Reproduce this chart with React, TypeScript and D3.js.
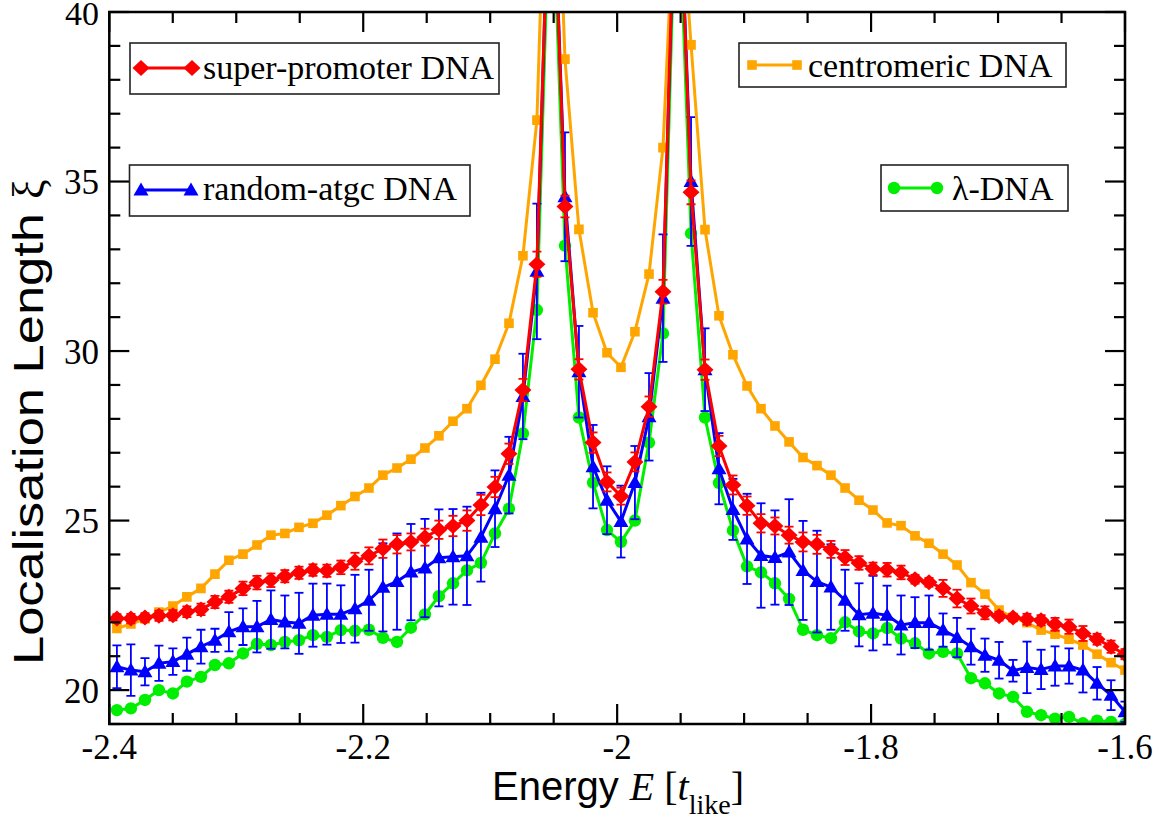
import React from "react";
import * as d3 from "d3";

// Energy grid (in units of t_like)
const energies = [
  -2.394, -2.383, -2.3719, -2.3609, -2.3499, -2.3389, -2.3278, -2.3168, -2.3058, -2.2947,
  -2.2837, -2.2727, -2.2617, -2.2506, -2.2396, -2.2286, -2.2176, -2.2065, -2.1955, -2.1845,
  -2.1734, -2.1624, -2.1514, -2.1404, -2.1293, -2.1183, -2.1073, -2.0962, -2.0852, -2.0742,
  -2.0632, -2.0521, -2.0411, -2.0301, -2.019, -2.008, -1.997, -1.986, -1.9749, -1.9639,
  -1.9529, -1.9418, -1.9308, -1.9198, -1.9088, -1.8977, -1.8867, -1.8757, -1.8646, -1.8536,
  -1.8426, -1.8316, -1.8205, -1.8095, -1.7985, -1.7874, -1.7764, -1.7654, -1.7544, -1.7433,
  -1.7323, -1.7213, -1.7103, -1.6992, -1.6882, -1.6772, -1.6661, -1.6551, -1.6441, -1.6331,
  -1.622, -1.611, -1.6,
];

const superPromoter = [
  22.11, 22.11, 22.14, 22.19, 22.21, 22.31, 22.38, 22.6, 22.75, 23.0,
  23.17, 23.24, 23.36, 23.46, 23.54, 23.52, 23.62, 23.8, 23.96, 24.17,
  24.3, 24.37, 24.51, 24.73, 24.84, 25.0, 25.46, 25.99, 26.97, 28.85,
  32.56, 46, 34.26, 29.46, 27.3, 26.14, 25.72, 26.73, 28.36, 31.75,
  46, 34.68, 29.45, 27.2, 26.05, 25.44, 24.92, 24.84, 24.57, 24.37,
  24.3, 24.15, 23.91, 23.75, 23.58, 23.55, 23.47, 23.27, 23.18, 23.0,
  22.7, 22.48, 22.28, 22.18, 22.14, 22.09, 22.06, 21.94, 21.87, 21.67,
  21.5, 21.28, 21.06,
];
const superPromoterErr = [
  0.13, 0.14, 0.13, 0.15, 0.15, 0.16, 0.17, 0.18, 0.18, 0.2,
  0.2, 0.2, 0.18, 0.18, 0.17, 0.18, 0.2, 0.25, 0.25, 0.27,
  0.27, 0.25, 0.25, 0.27, 0.3, 0.3, 0.3, 0.3, 0.3, 0.33,
  0.37, 0.4, 0.32, 0.3, 0.3, 0.28, 0.25, 0.28, 0.3, 0.35,
  0.4, 0.35, 0.3, 0.3, 0.28, 0.27, 0.27, 0.25, 0.25, 0.28,
  0.28, 0.25, 0.22, 0.2, 0.18, 0.2, 0.2, 0.13, 0.13, 0.25,
  0.26, 0.22, 0.19, 0.13, 0.11, 0.16, 0.15, 0.19, 0.21, 0.22,
  0.16, 0.18, 0.15,
];

const randomAtgc = [
  20.69, 20.59, 20.54, 20.79, 20.84, 21.06, 21.28, 21.47, 21.72, 21.87,
  21.87, 22.08, 22.01, 21.97, 22.21, 22.24, 22.24, 22.4, 22.65, 23.03,
  23.2, 23.48, 23.6, 23.9, 23.93, 23.96, 24.51, 25.35, 26.34, 28.66,
  32.35, 46, 34.55, 29.39, 26.59, 25.6, 24.97, 26.12, 28.06, 31.56,
  46, 35.0, 29.45, 26.53, 25.33, 24.46, 23.97, 23.91, 24.07, 23.53,
  23.2, 23.04, 22.65, 22.22, 22.27, 22.21, 21.92, 21.99, 21.99, 21.77,
  21.55, 21.28, 21.03, 20.88, 20.57, 20.67, 20.61, 20.71, 20.71, 20.59,
  20.2, 19.85, 19.36,
];
const randomAtgcErr = [
  0.63, 0.76, 0.4, 0.52, 0.39, 0.49, 0.5, 0.34, 0.58, 0.54,
  0.76, 0.86, 0.78, 0.9, 0.93, 0.9, 0.85, 1.0, 0.9, 1.3,
  1.42, 1.42, 1.45, 1.43, 1.41, 1.45, 1.31, 1.13, 1.13, 1.26,
  2.0, 2.0, 1.9, 1.35, 1.23, 1.0, 1.06, 1.08, 1.29, 1.88,
  2.0, 1.9, 1.22, 1.05, 0.9, 1.33, 1.54, 1.39, 1.56, 1.46,
  1.5, 1.26, 0.9, 0.93, 1.1, 0.87, 0.87, 0.75, 0.8, 0.49,
  0.58, 0.53, 0.49, 0.54, 0.32, 0.76, 0.58, 0.58, 0.52, 0.66,
  0.48, 0.44, 0.3,
];

const centromeric = [
  21.82, 21.95, 22.1, 22.3, 22.48, 22.75, 23.0, 23.42, 23.83, 24.01,
  24.28, 24.57, 24.62, 24.8, 24.92, 25.16, 25.44, 25.71, 25.96, 26.34,
  26.55, 26.81, 27.14, 27.5, 27.93, 28.3, 28.99, 29.76, 30.82, 32.81,
  36.81, 50, 38.61, 33.59, 31.13, 29.95, 29.52, 30.57, 32.27, 36.0,
  45, 39.03, 33.58, 31.04, 29.89, 28.97, 28.3, 27.79, 27.32, 26.86,
  26.62, 26.34, 25.96, 25.6, 25.31, 24.93, 24.85, 24.55, 24.33, 24.01,
  23.69, 23.17, 22.83, 22.36, 22.14, 21.99, 21.77, 21.65, 21.5, 21.33,
  21.06, 20.81, 20.59,
];

const lambdaDna = [
  19.41, 19.46, 19.71, 20.0, 19.9, 20.25, 20.39, 20.74, 20.79, 21.08,
  21.36, 21.33, 21.42, 21.47, 21.62, 21.57, 21.77, 21.75, 21.78, 21.54,
  21.42, 21.84, 22.23, 22.77, 23.15, 23.53, 23.75, 24.62, 25.35, 27.57,
  31.21, 45, 33.11, 28.04, 26.12, 24.72, 24.37, 25.0, 27.3, 30.52,
  45, 33.47, 28.04, 26.11, 24.71, 23.65, 23.47, 23.15, 22.69, 21.78,
  21.62, 21.53, 22.0, 21.73, 21.67, 21.83, 21.52, 21.38, 21.08, 21.13,
  21.08, 20.35, 20.2, 19.9, 19.8, 19.36, 19.26, 19.16, 19.21, 19.02,
  19.1, 19.06, 19.0,
];

const xTicks = [-2.4, -2.2, -2.0, -1.8, -1.6];
const xTickLabels = ["-2.4", "-2.2", "-2", "-1.8", "-1.6"];
const yTicks = [20, 25, 30, 35, 40];
const yTickLabels = ["20", "25", "30", "35", "40"];

const seriesNames = ["λ-DNA", "random-atgc DNA", "centromeric DNA", "super-promoter DNA"];
const seriesColors = ["#00ee00", "#0000ff", "#ffa500", "#ff0000"];
const seriesShapes = ["circle", "triangle", "square", "diamond"];

const W = 1166;
const H = 820;
const PL = 109.3, PR = 1125, PT = 12, PB = 724;
const SERIF = "'Liberation Serif', 'Times New Roman', Times, serif";
const SANS = "'Liberation Sans', Arial, Helvetica, sans-serif";

function markerPath(shape: string): string {
  switch (shape) {
    case "diamond":
      return "M0,-8L8.5,0L0,8L-8.5,0Z";
    case "triangle":
      return "M0,-7.5L7.5,5.5L-7.5,5.5Z";
    case "square":
      return "M-4.8,-4.8H4.8V4.8H-4.8Z";
    default:
      return "M6.2,0A6.2,6.2 0 1,1 -6.2,0A6.2,6.2 0 1,1 6.2,0Z";
  }
}

export default function App() {
  const x = d3.scaleLinear().domain([-2.4, -1.6]).range([PL, PR]);
  const y = d3.scaleLinear().domain([19, 40]).range([PB, PT]);

  const series = [
    { values: lambdaDna, err: null as number[] | null },
    { values: randomAtgc, err: randomAtgcErr },
    { values: centromeric, err: null as number[] | null },
    { values: superPromoter, err: superPromoterErr },
  ].map((s, k) => ({
    ...s,
    name: seriesNames[k],
    color: seriesColors[k],
    shape: seriesShapes[k],
  }));

  const line = d3
    .line<number>()
    .x((_, i) => x(energies[i]))
    .y((v) => y(v));

  const xMinor = d3.range(-2.4, -1.5999, 0.05).map((v) => +v.toFixed(3));
  const yMinor = d3.range(19, 40.001, 1);

  const legends = [
    { k: 3, box: [130, 43, 499, 94], l: [141, 192, 68], tx: 203, ty: 79 },
    { k: 1, box: [129.5, 165, 470, 216], l: [141, 191, 190], tx: 203, ty: 200 },
    { k: 2, box: [739, 43, 1066, 87], l: [752, 797, 65], tx: 808, ty: 77 },
    { k: 0, box: [881, 165, 1068, 211], l: [894, 937, 188], tx: 952, ty: 200 },
  ];

  return (
    <svg
      width={W}
      height={H}
      viewBox={`0 0 ${W} ${H}`}
      style={{ position: "absolute", left: 0, top: 0, background: "#fff" }}
    >
      <defs>
        <clipPath id="plotClip">
          <rect x={PL} y={PT} width={PR - PL} height={PB - PT} />
        </clipPath>
      </defs>
      <rect x={0} y={0} width={W} height={H} fill="#fff" />

      <g clipPath="url(#plotClip)">
        {series.map((s, k) => (
          <g key={k}>
            {s.err &&
              s.values.map((v, i) => {
                const e = s.err![i];
                const cx = x(energies[i]);
                return (
                  <g key={i} stroke={s.color} strokeWidth={1.8}>
                    <line x1={cx} x2={cx} y1={y(v - e)} y2={y(v + e)} />
                    <line x1={cx - 4.5} x2={cx + 4.5} y1={y(v - e)} y2={y(v - e)} />
                    <line x1={cx - 4.5} x2={cx + 4.5} y1={y(v + e)} y2={y(v + e)} />
                  </g>
                );
              })}
            <path d={line(s.values) || ""} fill="none" stroke={s.color} strokeWidth={3} strokeLinejoin="round" />
            {s.values.map((v, i) => (
              <path
                key={i}
                d={markerPath(s.shape)}
                transform={`translate(${x(energies[i])},${y(v)})`}
                fill={s.color}
              />
            ))}
          </g>
        ))}
      </g>

      {/* frame */}
      <rect x={PL} y={PT} width={PR - PL} height={PB - PT} fill="none" stroke="#000" strokeWidth={2.5} />

      {/* ticks */}
      <g stroke="#000" strokeWidth={2.2}>
        {xMinor.map((v, i) => {
          const major = xTicks.some((t) => Math.abs(t - v) < 1e-6);
          const len = major ? 20 : 11;
          const px = x(v);
          return (
            <g key={i}>
              <line x1={px} x2={px} y1={PB} y2={PB - len} />
              <line x1={px} x2={px} y1={PT} y2={PT + len} />
            </g>
          );
        })}
        {yMinor.map((v, i) => {
          const major = yTicks.includes(v);
          const len = major ? 20 : 11;
          const py = y(v);
          return (
            <g key={i}>
              <line x1={PL} x2={PL + len} y1={py} y2={py} />
              <line x1={PR} x2={PR - len} y1={py} y2={py} />
            </g>
          );
        })}
      </g>

      {/* tick labels */}
      <g fontFamily={SERIF} fontSize={35} fill="#000">
        {xTicks.map((t, i) => (
          <text key={i} x={x(t)} y={759} textAnchor="middle">
            {xTickLabels[i]}
          </text>
        ))}
        {yTicks.map((t, i) => (
          <text key={i} x={99} y={y(t) + 12.5} textAnchor="end" fontSize={i === yTicks.length - 1 ? 34 : 35}>
            {yTickLabels[i]}
          </text>
        ))}
      </g>

      {/* axis titles */}
      <text x={618} y={800} textAnchor="middle" fontFamily={SANS} fontSize={40} fill="#000">
        Energy{" "}
        <tspan fontFamily={SERIF} fontStyle="italic">E</tspan>
        <tspan fontFamily={SERIF}> [</tspan>
        <tspan fontFamily={SERIF} fontStyle="italic">t</tspan>
        <tspan fontFamily={SERIF} fontSize={28} dy={14}>like</tspan>
        <tspan fontFamily={SERIF} dy={-14}>]</tspan>
      </text>
      <g transform="translate(43,665) rotate(-90)">
        <text
          x={0}
          y={0}
          fontFamily={SANS}
          fontSize={42}
          fill="#000"
          textLength={452}
          lengthAdjust="spacingAndGlyphs"
        >
          Localisation Length
        </text>
        <text x={466} y={0} fontFamily={SERIF} fontSize={44} fill="#000">
          ξ
        </text>
      </g>

      {/* legends */}
      {legends.map((L, j) => {
        const s = series[L.k];
        const [x0, y0, x1, y1] = L.box;
        const [lx0, lx1, ly] = L.l;
        return (
          <g key={j}>
            <rect x={x0} y={y0} width={x1 - x0} height={y1 - y0} fill="#fff" stroke="#222" strokeWidth={1.6} />
            <line x1={lx0} x2={lx1} y1={ly} y2={ly} stroke={s.color} strokeWidth={3} />
            <path d={markerPath(s.shape)} transform={`translate(${lx0},${ly})`} fill={s.color} />
            <path d={markerPath(s.shape)} transform={`translate(${lx1},${ly})`} fill={s.color} />
            <text x={L.tx} y={L.ty} fontFamily={SERIF} fontSize={34} fill="#000">
              {s.name}
            </text>
          </g>
        );
      })}
    </svg>
  );
}
